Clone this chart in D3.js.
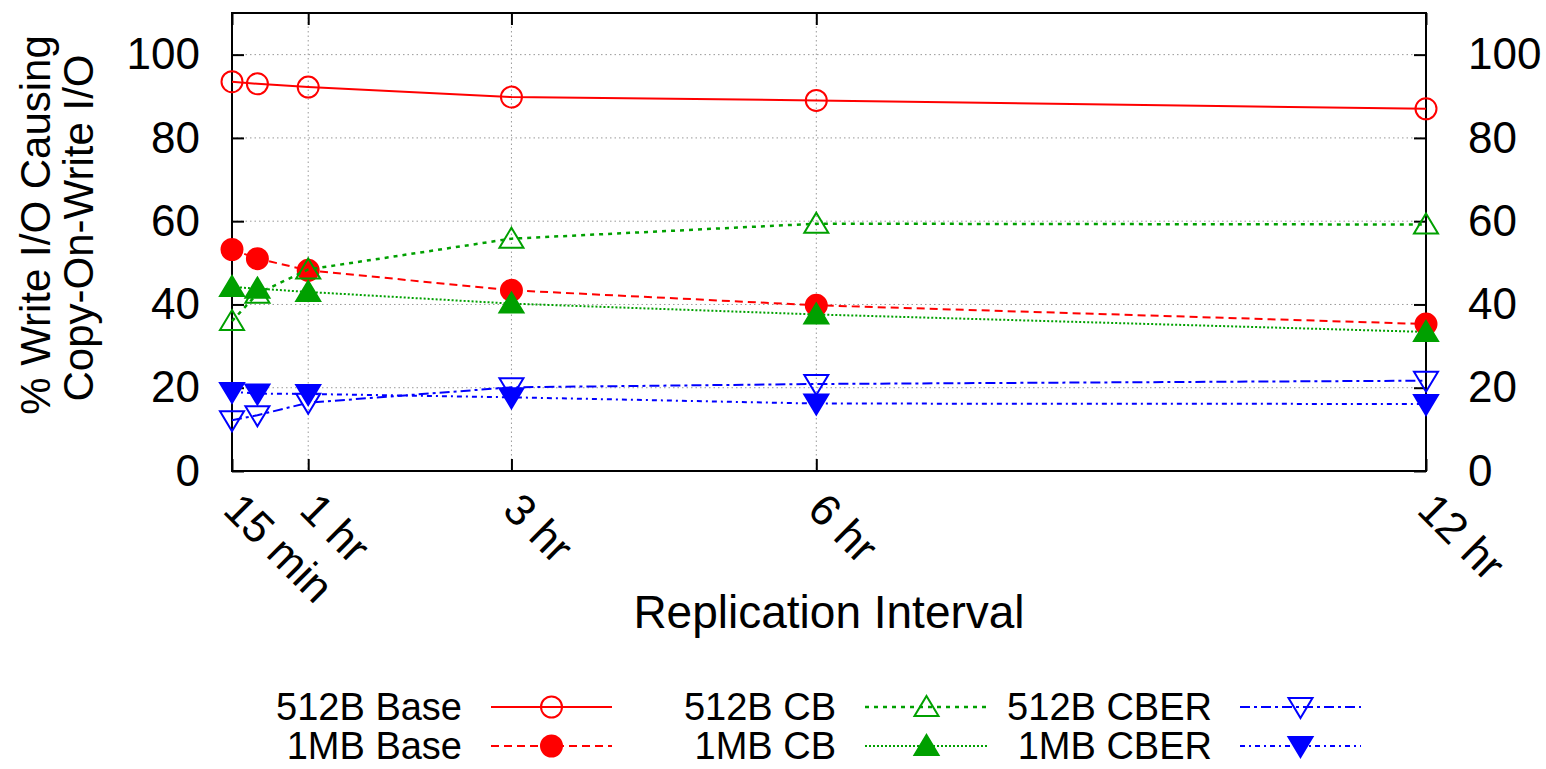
<!DOCTYPE html>
<html>
<head>
<meta charset="utf-8">
<script src="https://cdn.jsdelivr.net/npm/d3@7"></script>
<style>
  body { margin: 0; background: #fff; }
  svg { display: block; font-family: "Liberation Sans", Arial, Helvetica, sans-serif; }
</style>
</head>
<body>
<svg id="chart" width="1546" height="769"></svg>
<script>
// replication interval in minutes
const intervals = [15, 30, 60, 180, 360, 720];
const xTickValues = [15, 60, 180, 360, 720];
const xTickLabels = ['15 min', '1 hr', '3 hr', '6 hr', '12 hr'];
const yTickValues = [0, 20, 40, 60, 80, 100];

const base512 = [93.5, 93.0, 92.2, 89.8, 89.0, 87.0];
const base1M = [53.2, 51.0, 48.2, 43.4, 39.8, 35.3];
const cb512 = [36.0, 42.6, 48.4, 55.8, 59.4, 59.2];
const cb1M = [44.2, 43.8, 43.0, 40.2, 37.6, 33.4];
const cber512 = [12.2, 13.4, 16.4, 20.1, 20.9, 21.7];
const cber1M = [19.0, 18.6, 18.5, 17.7, 16.2, 16.1];

const red = '#ff0000', green = '#00a000', blue = '#0000ff';

const series = [
  { name: '512B Base', values: base512, color: red, dash: null, width: 2, marker: 'circle', filled: false },
  { name: '1MB Base', values: base1M, color: red, dash: '8,5', width: 2, marker: 'circle', filled: true },
  { name: '512B CB', values: cb512, color: green, dash: '4,5', width: 2.5, marker: 'up', filled: false },
  { name: '1MB CB', values: cb1M, color: green, dash: '2,2', width: 2, marker: 'up', filled: true },
  { name: '512B CBER', values: cber512, color: blue, dash: '10,4,3,4', width: 2, marker: 'down', filled: false },
  { name: '1MB CBER', values: cber1M, color: blue, dash: '5,4,2,4', width: 2, marker: 'down', filled: true }
];

const svg = d3.select('#chart');
const box = { left: 232, right: 1426, top: 13, bottom: 471 };

const x = d3.scaleLinear().domain([15, 720]).range([box.left, box.right]);
const y = d3.scaleLinear().domain([0, 110]).range([box.bottom, box.top]);

// grid
const grid = svg.append('g')
  .attr('stroke', '#999')
  .attr('stroke-width', 1)
  .attr('stroke-dasharray', '1.5,3');

grid.selectAll('line.h')
  .data(yTickValues.filter(v => v > 0))
  .join('line')
  .attr('class', 'h')
  .attr('x1', box.left).attr('x2', box.right)
  .attr('y1', d => y(d)).attr('y2', d => y(d));

grid.selectAll('line.v')
  .data(xTickValues.filter(v => v > 15 && v < 720))
  .join('line')
  .attr('class', 'v')
  .attr('x1', d => x(d)).attr('x2', d => x(d))
  .attr('y1', box.top).attr('y2', box.bottom);

// axes
const styleAxis = g => {
  g.select('.domain').remove();
  g.selectAll('.tick line').attr('stroke', '#000').attr('stroke-width', 2);
  g.selectAll('.tick text').attr('fill', '#000').style('font-size', '44px');
};

svg.append('g')
  .attr('transform', `translate(${box.left},0)`)
  .call(d3.axisLeft(y).tickValues(yTickValues).tickSize(-12).tickPadding(32))
  .call(styleAxis);

svg.append('g')
  .attr('transform', `translate(${box.right},0)`)
  .call(d3.axisRight(y).tickValues(yTickValues).tickSize(-12).tickPadding(42))
  .call(styleAxis);

svg.append('g')
  .attr('transform', `translate(0,${box.top})`)
  .call(d3.axisTop(x).tickValues(xTickValues).tickSize(-12).tickFormat(''))
  .call(styleAxis);

svg.append('g')
  .attr('transform', `translate(0,${box.bottom})`)
  .call(d3.axisBottom(x).tickValues(xTickValues).tickSize(-12)
    .tickFormat((d, i) => xTickLabels[i]))
  .call(styleAxis)
  .call(g => g.selectAll('.tick text')
    .attr('x', null).attr('y', null).attr('dy', null)
    .attr('text-anchor', 'start')
    .attr('transform', 'translate(-11,41) rotate(45)'));

// frame
svg.append('rect')
  .attr('x', box.left).attr('y', box.top)
  .attr('width', box.right - box.left).attr('height', box.bottom - box.top)
  .attr('fill', 'none')
  .attr('stroke', '#000')
  .attr('stroke-width', 2);

// axis titles
svg.append('text')
  .attr('transform', 'translate(50,225) rotate(-90)')
  .attr('text-anchor', 'middle')
  .style('font-size', '42px')
  .text('% Write I/O Causing');

svg.append('text')
  .attr('transform', 'translate(93,228) rotate(-90)')
  .attr('text-anchor', 'middle')
  .style('font-size', '42px')
  .text('Copy-On-Write I/O');

svg.append('text')
  .attr('x', 829).attr('y', 628)
  .attr('text-anchor', 'middle')
  .style('font-size', '46px')
  .text('Replication Interval');

// markers
function markerPath(type) {
  if (type === 'up') return 'M0,-11L12,9L-12,9Z';
  if (type === 'down') return 'M0,11L12,-9L-12,-9Z';
  return d3.symbol(d3.symbolCircle, Math.PI * 10.5 * 10.5)();
}

function drawMarker(g, s, cx, cy) {
  g.append('path')
    .attr('transform', `translate(${cx},${cy})`)
    .attr('d', markerPath(s.marker))
    .attr('fill', s.filled ? s.color : 'none')
    .attr('stroke', s.color)
    .attr('stroke-width', 2);
}

const line = d3.line()
  .x((d, i) => x(intervals[i]))
  .y(d => y(d));

const plot = svg.append('g');
series.forEach(s => {
  plot.append('path')
    .attr('d', line(s.values))
    .attr('fill', 'none')
    .attr('stroke', s.color)
    .attr('stroke-width', s.width)
    .attr('stroke-dasharray', s.dash);
  s.values.forEach((v, i) => drawMarker(plot, s, x(intervals[i]), y(v)));
});

// legend (two rows, three columns)
const legendCols = [
  { textRight: 462, lineStart: 491, lineEnd: 612 },
  { textRight: 836, lineStart: 865, lineEnd: 988 },
  { textRight: 1212, lineStart: 1240, lineEnd: 1361 }
];
const legendRows = [707, 746];

const legend = svg.append('g');
series.forEach((s, i) => {
  const col = legendCols[Math.floor(i / 2)];
  const ry = legendRows[i % 2];
  legend.append('text')
    .attr('x', col.textRight).attr('y', ry)
    .attr('dy', '0.35em')
    .attr('text-anchor', 'end')
    .style('font-size', '38px')
    .text(s.name);
  legend.append('line')
    .attr('x1', col.lineStart).attr('x2', col.lineEnd)
    .attr('y1', ry).attr('y2', ry)
    .attr('stroke', s.color)
    .attr('stroke-width', s.width)
    .attr('stroke-dasharray', s.dash);
  drawMarker(legend, s, (col.lineStart + col.lineEnd) / 2, ry);
});
</script>
</body>
</html>
